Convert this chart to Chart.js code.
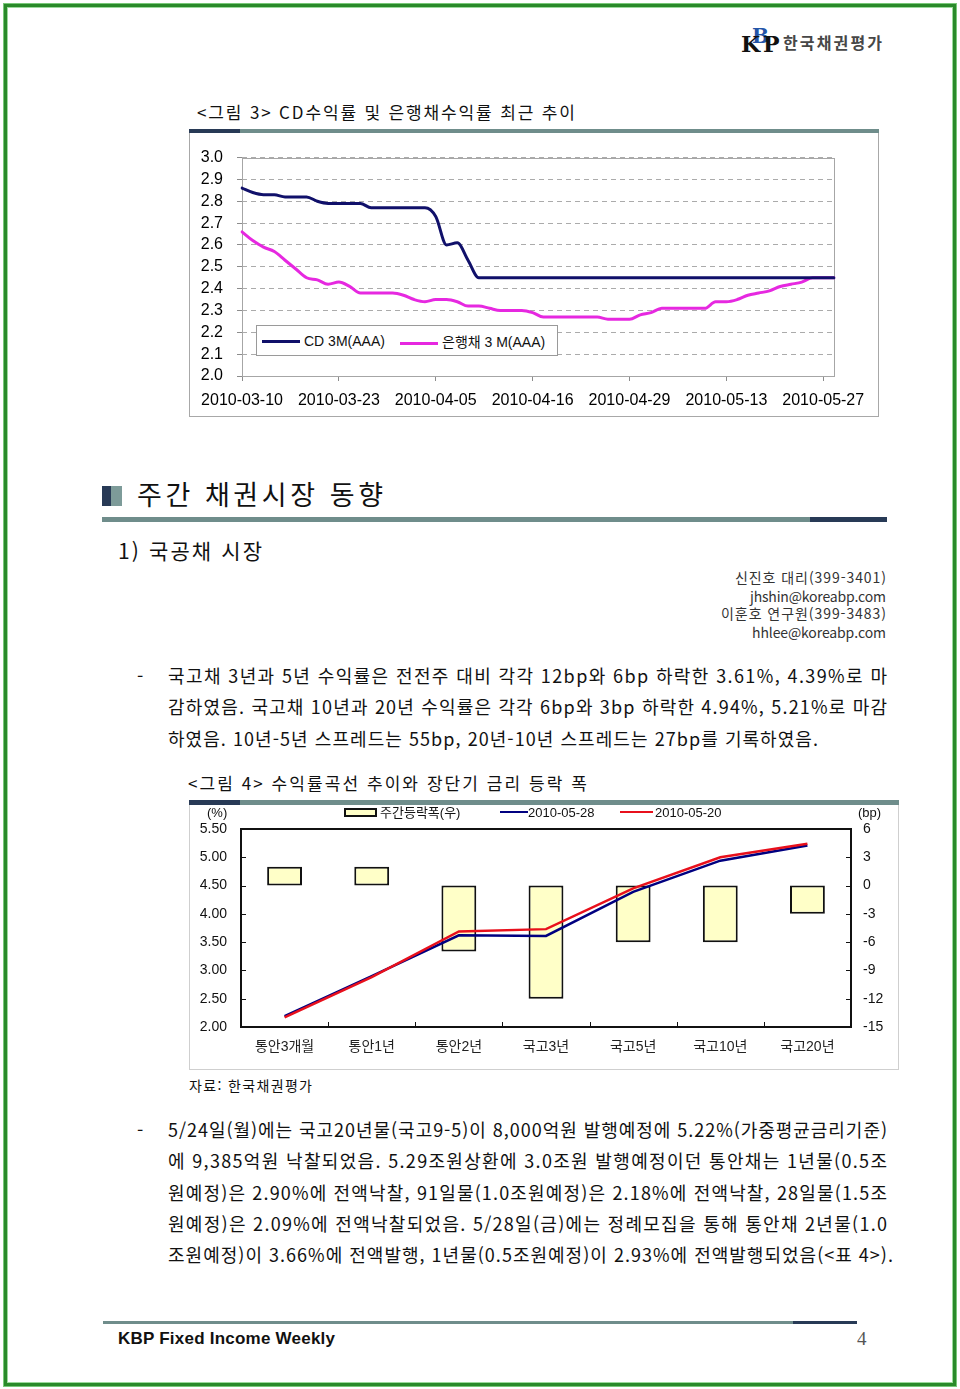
<!DOCTYPE html>
<html lang="ko">
<head>
<meta charset="utf-8">
<title>KBP Fixed Income Weekly 4</title>
<script src="https://cdn.jsdelivr.net/npm/chart.js@4.4.1/dist/chart.umd.min.js"></script>
<style>
  html, body { margin: 0; padding: 0; background: #fff; }
  body { width: 960px; height: 1389px; position: relative; overflow: hidden;
         font-family: "Noto Sans CJK KR", "Liberation Sans", sans-serif; color: #111; }
  .abs { position: absolute; }
  .t { position: absolute; white-space: nowrap; line-height: 1; }
  .lat { font-family: "Liberation Sans", "Noto Sans CJK KR", sans-serif; }
  .page-border { position: absolute; left: 4px; top: 4px; width: 952px; height: 1382px; box-sizing: border-box;
                 border: 3px solid #2a8a2a; box-shadow: 0 0 0 1px #79c879, inset 0 0 0 1px #9bd99b; }
  .navy { background: #283a56; }
  .teal { background: #6f8d8b; }
  canvas { position: absolute; }
</style>
</head>
<body>
<div class="page-border"></div>

<!-- 로고 -->
<div class="abs" style="left:741px;top:25px;width:40px;height:30px;font-family:'DejaVu Serif','Liberation Serif',serif;font-weight:bold;">
  <span class="abs" style="left:11px;top:1px;font-size:20px;line-height:1;color:#2355a8">B</span>
  <span class="abs" style="left:0;top:8px;font-size:22px;line-height:1;color:#111">K</span>
  <span class="abs" style="left:22px;top:8px;font-size:22px;line-height:1;color:#111">P</span>
</div>
<div class="t" data-w="99" style="left:783px;top:34px;font-size:16px;font-weight:bold;color:#474747">한국채권평가</div>

<!-- 그림 3 -->
<div class="t" data-w="378" style="left:197px;top:103px;font-size:17px">&lt;그림 3&gt; CD수익률 및 은행채수익률 최근 추이</div>
<div class="abs" style="left:189px;top:129px;width:690px;height:288px;border:1px solid #a8a8a8;border-top:none;box-sizing:border-box"></div>
<div class="abs navy" style="left:189px;top:129px;width:51px;height:4px"></div>
<div class="abs teal" style="left:240px;top:129px;width:639px;height:4px"></div>
<canvas id="rateChart" width="690" height="283" style="left:189px;top:134px"></canvas>
<div class="abs" style="left:256px;top:325px;width:302px;height:31px;border:1px solid #9a9a9a;background:#fff;box-sizing:border-box"></div>
<div class="abs" style="left:262px;top:340px;width:38px;height:3px;background:#10106a"></div>
<div class="t lat" style="left:304px;top:334px;font-size:14px">CD 3M(AAA)</div>
<div class="abs" style="left:400px;top:342px;width:38px;height:3px;background:#e628e0"></div>
<div class="t lat" style="left:442px;top:335px;font-size:14px">은행채 3 M(AAA)</div>

<!-- 주간 채권시장 동향 -->
<div class="abs navy" style="left:102px;top:486px;width:9px;height:20px"></div>
<div class="abs" style="left:111px;top:486px;width:11px;height:20px;background:#7d9b99"></div>
<div class="t" data-w="246" style="left:137px;top:480px;font-size:27px">주간 채권시장 동향</div>
<div class="abs teal" style="left:102px;top:517px;width:708px;height:5px"></div>
<div class="abs navy" style="left:810px;top:517px;width:77px;height:5px"></div>

<div class="t" data-w="144" style="left:118px;top:540px;font-size:21px">1) 국공채 시장</div>

<div class="t" data-w="151" style="left:735px;top:570px;font-size:14px;color:#333">신진호 대리(399-3401)</div>
<div class="t" data-w="136" style="left:750px;top:589px;font-size:14px;color:#333">jhshin@koreabp.com</div>
<div class="t" data-w="165" style="left:721px;top:606px;font-size:14px;color:#333">이훈호 연구원(399-3483)</div>
<div class="t" data-w="134" style="left:752px;top:625px;font-size:14px;color:#333">hhlee@koreabp.com</div>

<div class="t" style="left:137px;top:666px;font-size:18px">-</div>
<div class="t" data-w="719" style="left:168px;top:666px;font-size:18px">국고채 3년과 5년 수익률은 전전주 대비 각각 12bp와 6bp 하락한 3.61%, 4.39%로 마</div>
<div class="t" data-w="719" style="left:168px;top:697px;font-size:18px">감하였음. 국고채 10년과 20년 수익률은 각각 6bp와 3bp 하락한 4.94%, 5.21%로 마감</div>
<div class="t" data-w="650" style="left:168px;top:729px;font-size:18px">하였음. 10년-5년 스프레드는 55bp, 20년-10년 스프레드는 27bp를 기록하였음.</div>

<!-- 그림 4 -->
<div class="t" data-w="399" style="left:188px;top:774px;font-size:17px">&lt;그림 4&gt; 수익률곡선 추이와 장단기 금리 등락 폭</div>
<div class="abs" style="left:189px;top:800px;width:710px;height:270px;border:1px solid #cfcfcf;border-top:none;box-sizing:border-box"></div>
<div class="abs navy" style="left:189px;top:800px;width:51px;height:5px"></div>
<div class="abs teal" style="left:240px;top:800px;width:659px;height:5px"></div>
<canvas id="curveChart" width="710" height="265" style="left:189px;top:805px"></canvas>
<div class="t lat" style="left:207px;top:806px;font-size:13px">(%)</div>
<div class="t lat" style="left:858px;top:806px;font-size:13px">(bp)</div>
<div class="abs" style="left:344px;top:808px;width:33px;height:9px;background:#ffffc8;border:2px solid #111;box-sizing:border-box"></div>
<div class="t lat" style="left:380px;top:806px;font-size:13px">주간등락폭(우)</div>
<div class="abs" style="left:500px;top:811px;width:28px;height:2px;background:#000080"></div>
<div class="t lat" style="left:528px;top:806px;font-size:13px">2010-05-28</div>
<div class="abs" style="left:620px;top:811px;width:33px;height:2px;background:#e8101c"></div>
<div class="t lat" style="left:655px;top:806px;font-size:13px">2010-05-20</div>

<div class="t" data-w="123" style="left:189px;top:1078px;font-size:14px">자료: 한국채권평가</div>

<div class="t" style="left:137px;top:1120px;font-size:18px">-</div>
<div class="t" data-w="719" style="left:168px;top:1120px;font-size:18px">5/24일(월)에는 국고20년물(국고9-5)이 8,000억원 발행예정에 5.22%(가중평균금리기준)</div>
<div class="t" data-w="719" style="left:168px;top:1151px;font-size:18px">에 9,385억원 낙찰되었음. 5.29조원상환에 3.0조원 발행예정이던 통안채는 1년물(0.5조</div>
<div class="t" data-w="719" style="left:168px;top:1183px;font-size:18px">원예정)은 2.90%에 전액낙찰, 91일물(1.0조원예정)은 2.18%에 전액낙찰, 28일물(1.5조</div>
<div class="t" data-w="719" style="left:168px;top:1214px;font-size:18px">원예정)은 2.09%에 전액낙찰되었음. 5/28일(금)에는 정례모집을 통해 통안채 2년물(1.0</div>
<div class="t" data-w="725" style="left:168px;top:1245px;font-size:18px">조원예정)이 3.66%에 전액발행, 1년물(0.5조원예정)이 2.93%에 전액발행되었음(&lt;표 4&gt;).</div>

<!-- footer -->
<div class="abs teal" style="left:103px;top:1321px;width:690px;height:3px"></div>
<div class="abs navy" style="left:793px;top:1321px;width:64px;height:3px"></div>
<div class="t lat" data-w="217" style="left:118px;top:1330px;font-size:17px;font-weight:bold">KBP Fixed Income Weekly</div>
<div class="t" style="left:857px;top:1329px;font-size:19px;font-family:'Liberation Serif','DejaVu Serif',serif;color:#555">4</div>

<script>
// ---- 그림 3 데이터: CD / 은행채 3M 수익률 (%)
const dates = [
  '2010-03-10','2010-03-11','2010-03-12','2010-03-15','2010-03-16','2010-03-17','2010-03-18','2010-03-19',
  '2010-03-22','2010-03-23','2010-03-24','2010-03-25','2010-03-26','2010-03-29','2010-03-30','2010-03-31',
  '2010-04-01','2010-04-02','2010-04-05','2010-04-06','2010-04-07','2010-04-08','2010-04-09','2010-04-12',
  '2010-04-13','2010-04-14','2010-04-15','2010-04-16','2010-04-19','2010-04-20','2010-04-21','2010-04-22',
  '2010-04-23','2010-04-26','2010-04-27','2010-04-28','2010-04-29','2010-04-30','2010-05-03','2010-05-04',
  '2010-05-06','2010-05-07','2010-05-10','2010-05-11','2010-05-12','2010-05-13','2010-05-14','2010-05-17',
  '2010-05-18','2010-05-19','2010-05-20','2010-05-24','2010-05-25','2010-05-26','2010-05-27','2010-05-28'
];
const cd3m = [
  2.86, 2.84, 2.83, 2.83, 2.82, 2.82, 2.82, 2.80, 2.79, 2.79,
  2.79, 2.79, 2.77, 2.77, 2.77, 2.77, 2.77, 2.77, 2.73, 2.60,
  2.61, 2.53, 2.45, 2.45, 2.45, 2.45, 2.45, 2.45, 2.45, 2.45,
  2.45, 2.45, 2.45, 2.45, 2.45, 2.45, 2.45, 2.45, 2.45, 2.45,
  2.45, 2.45, 2.45, 2.45, 2.45, 2.45, 2.45, 2.45, 2.45, 2.45,
  2.45, 2.45, 2.45, 2.45, 2.45, 2.45
];
const bank3m = [
  2.66, 2.62, 2.59, 2.57, 2.53, 2.49, 2.45, 2.44, 2.42, 2.43,
  2.41, 2.38, 2.38, 2.38, 2.38, 2.37, 2.35, 2.34, 2.35, 2.35,
  2.34, 2.32, 2.32, 2.31, 2.30, 2.30, 2.30, 2.29, 2.27, 2.27,
  2.27, 2.27, 2.27, 2.27, 2.26, 2.26, 2.26, 2.28, 2.29, 2.31,
  2.31, 2.31, 2.31, 2.31, 2.34, 2.34, 2.35, 2.37, 2.38, 2.39,
  2.41, 2.42, 2.43, 2.45, 2.45, 2.45
];
const dateLabelEvery = 9;      // 9영업일마다 날짜 표시
const rateMin = 2.0, rateMax = 3.0, rateStep = 0.1;

// ---- 그림 4 데이터: 수익률곡선 (%), 주간등락폭 (bp)
const tenors = ['통안3개월', '통안1년', '통안2년', '국고3년', '국고5년', '국고10년', '국고20년'];
const weeklyChange = [2, 2, -7, -12, -6, -6, -3];
const curve0528 = [2.19, 2.90, 3.62, 3.61, 4.39, 4.94, 5.21];
const curve0520 = [2.17, 2.88, 3.69, 3.73, 4.45, 5.00, 5.24];
const pctMin = 2.0, pctMax = 5.5, pctStep = 0.5;
const bpMin = -15, bpMax = 6, bpStep = 3;

// --- 텍스트 줄 폭 맞추기 (자간 조정)
function fitLines() {
  document.querySelectorAll('.t[data-w]').forEach(el => {
    el.style.letterSpacing = '0px';
    const target = parseFloat(el.dataset.w);
    const w = el.getBoundingClientRect().width;
    const n = [...el.textContent].length;
    if (n > 1) el.style.letterSpacing = ((target - w) / (n - 1)) + 'px';
  });
}
fitLines();

// 플롯 영역 테두리
const plotBorder = {
  id: 'plotBorder',
  beforeDatasetsDraw(chart, args, opts) {
    const { ctx, chartArea: a } = chart;
    const off = opts.width % 2 ? 0.5 : 0;
    ctx.save();
    ctx.strokeStyle = opts.color;
    ctx.lineWidth = opts.width;
    ctx.strokeRect(Math.round(a.left) + off, Math.round(a.top) + off,
                   Math.round(a.right - a.left), Math.round(a.bottom - a.top));
    ctx.restore();
  }
};

// 안쪽 눈금 (그림 4)
const innerTicks = {
  id: 'innerTicks',
  beforeDatasetsDraw(chart) {
    const { ctx, chartArea: a, scales } = chart;
    ctx.save();
    ctx.strokeStyle = '#111';
    ctx.lineWidth = 1;
    ctx.beginPath();
    scales.y.ticks.forEach((t, i) => {
      const y = Math.round(scales.y.getPixelForTick(i)) + 0.5;
      ctx.moveTo(a.left, y); ctx.lineTo(a.left + 5, y);
    });
    scales.y1.ticks.forEach((t, i) => {
      const y = Math.round(scales.y1.getPixelForTick(i)) + 0.5;
      ctx.moveTo(a.right - 5, y); ctx.lineTo(a.right, y);
    });
    for (let i = 1; i < tenors.length; i++) {
      const x = Math.round((scales.x.getPixelForTick(i - 1) + scales.x.getPixelForTick(i)) / 2) + 0.5;
      ctx.moveTo(x, a.bottom); ctx.lineTo(x, a.bottom - 5);
    }
    ctx.stroke();
    ctx.restore();
  }
};

const latinFont = "'Liberation Sans', 'Noto Sans CJK KR', sans-serif";

// ---- 그림 3
new Chart(document.getElementById('rateChart'), {
  type: 'line',
  data: {
    labels: dates,
    datasets: [
      { label: 'CD 3M(AAA)', data: cd3m, borderColor: '#10106a', borderWidth: 3,
        pointRadius: 0, cubicInterpolationMode: 'monotone', borderJoinStyle: 'round', borderCapStyle: 'round' },
      { label: '은행채 3 M(AAA)', data: bank3m, borderColor: '#e628e0', borderWidth: 3,
        pointRadius: 0, cubicInterpolationMode: 'monotone', borderJoinStyle: 'round', borderCapStyle: 'round' }
    ]
  },
  options: {
    responsive: false,
    animation: false,
    layout: { padding: { top: 23, right: 45, left: 0, bottom: 0 } },
    plugins: { legend: { display: false }, tooltip: { enabled: false },
               plotBorder: { color: '#a6a6a6', width: 1 } },
    scales: {
      x: {
        offset: false,
        grid: { drawOnChartArea: false, tickLength: 5, color: '#8c8c8c' },
        border: { display: false },
        ticks: {
          autoSkip: false, maxRotation: 0, padding: 10, color: '#000',
          font: { family: latinFont, size: 16 },
          callback: function (v, i) { return i % dateLabelEvery === 0 ? this.getLabelForValue(v) : null; }
        },
        afterFit: s => { s.height = 41; }
      },
      y: {
        min: rateMin, max: rateMax,
        grid: { color: '#ababab', tickLength: 5, tickColor: '#8c8c8c', tickBorderDash: [] },
        border: { display: false, dash: [5, 4] },
        ticks: { stepSize: rateStep, autoSkip: false, padding: 14, color: '#000',
                 font: { family: latinFont, size: 16 }, callback: v => Number(v).toFixed(1) },
        afterFit: s => { s.width = 53; }
      }
    }
  },
  plugins: [plotBorder]
});

// ---- 그림 4
new Chart(document.getElementById('curveChart'), {
  type: 'bar',
  data: {
    labels: tenors,
    datasets: [
      { type: 'line', label: '2010-05-20', data: curve0520, yAxisID: 'y', order: 0,
        borderColor: '#e8101c', borderWidth: 2.5, pointRadius: 0, tension: 0 },
      { type: 'line', label: '2010-05-28', data: curve0528, yAxisID: 'y', order: 1,
        borderColor: '#000080', borderWidth: 2.5, pointRadius: 0, tension: 0 },
      { type: 'bar', label: '주간등락폭(우)', data: weeklyChange, yAxisID: 'y1', order: 2,
        backgroundColor: '#ffffc8', borderColor: '#111', borderWidth: 2, borderSkipped: false,
        barPercentage: 0.4, categoryPercentage: 1.0 }
    ]
  },
  options: {
    responsive: false,
    animation: false,
    layout: { padding: { top: 24, right: 0, left: 0, bottom: 0 } },
    plugins: { legend: { display: false }, tooltip: { enabled: false },
               plotBorder: { color: '#111', width: 2 } },
    scales: {
      x: {
        grid: { display: false, drawTicks: false },
        border: { display: false },
        ticks: { padding: 12, color: '#222', font: { family: latinFont, size: 14 } },
        afterFit: s => { s.height = 43; }
      },
      y: {
        position: 'left', min: pctMin, max: pctMax,
        grid: { display: false, drawTicks: false },
        border: { display: false },
        ticks: { stepSize: pctStep, autoSkip: false, padding: 14, color: '#111',
                 font: { family: latinFont, size: 14 }, callback: v => Number(v).toFixed(2) },
        afterFit: s => { s.width = 52; }
      },
      y1: {
        position: 'right', min: bpMin, max: bpMax,
        grid: { display: false, drawTicks: false },
        border: { display: false },
        ticks: { stepSize: bpStep, autoSkip: false, padding: 12, color: '#111',
                 font: { family: latinFont, size: 14 } },
        afterFit: s => { s.width = 48; }
      }
    }
  },
  plugins: [plotBorder, innerTicks]
});
</script>
</body>
</html>
